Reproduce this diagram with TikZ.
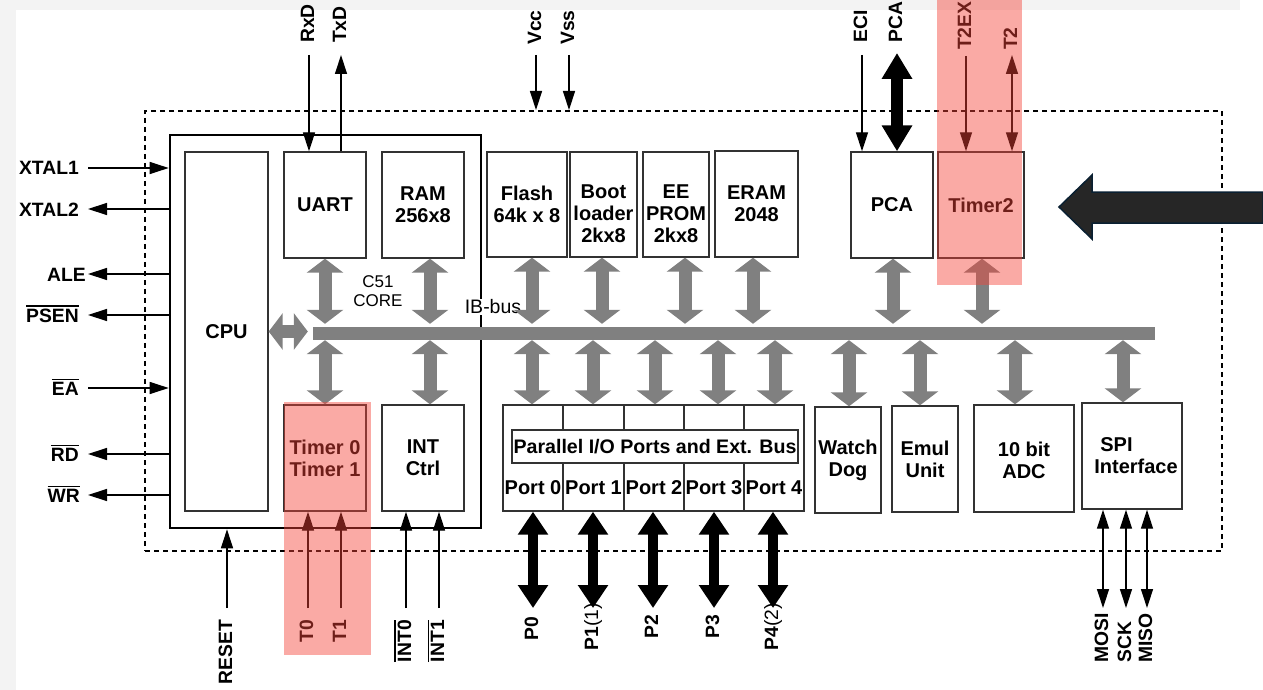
\documentclass[tikz,border=0pt]{standalone}
\usepackage{fontspec}
\setmainfont{Liberation Sans}
\usetikzlibrary{arrows.meta,fit}
\definecolor{busgrey}{RGB}{128,128,128}
\definecolor{hilite}{RGB}{244,67,56}
\definecolor{bigfill}{RGB}{38,38,38}
\definecolor{bigedge}{RGB}{10,32,50}
\definecolor{framegrey}{RGB}{243,243,243}
\definecolor{boxline}{RGB}{50,50,50}
\newcommand\ovl[1]{\vbox{\hrule height 1.5pt\kern 1.6pt\hbox{#1}}}
\begin{document}
\begin{tikzpicture}[x=1pt,y=-1pt,
  box/.style={draw=boxline,line width=1.4pt,fill=white,inner sep=0pt},
  txt/.style={font=\bfseries\fontsize{20}{22}\selectfont,align=center,inner sep=0pt},
  stxt/.style={font=\bfseries\fontsize{19.3}{22}\selectfont,inner sep=0pt},
  sig/.style={draw=black,line width=1.3pt},
  tin/.style={-{Triangle[width=12pt,length=19pt]}},
  tbi/.style={{Triangle[width=12pt,length=19pt]}-{Triangle[width=12pt,length=19pt]}},
  gar/.style={draw=busgrey,line width=13pt,{Triangle[width=36pt,length=14pt]}-{Triangle[width=36pt,length=14pt]}},
  blkarr/.style={draw=black,line width=10pt,{Triangle[width=29pt,length=23pt]}-{Triangle[width=29pt,length=23pt]}},
  pcaarr/.style={draw=black,line width=12pt,{Triangle[width=29pt,length=26pt]}-{Triangle[width=29pt,length=26pt]}},
]
\useasboundingbox (0,0) rectangle (1263,690);
\fill[white] (0,0) rectangle (1263,690);
\fill[framegrey] (0,0) rectangle (1240,10);
\fill[framegrey] (0,0) rectangle (16,690);

% chip outline and core
\node[draw=black,line width=2pt,dash pattern=on 5pt off 4pt,inner sep=0pt,fit={(145,111) (1222,551)}] (chip) {};
\node[draw=black,line width=2.6pt,inner sep=0pt,fit={(170,135) (481,528)}] (core) {};

% core blocks
\node[box,fit={(185,152) (268,511)}] (cpu) {};
\node[txt] (cpul) at (cpu) {CPU};
\node[box,fit={(284,152) (366,258)}] (uart) {};
\node[txt] (uartl) at (uart) {UART};
\node[box,fit={(382,152) (464,258)}] (ram) {};
\node[txt] (raml) at (ram) {RAM\\256x8};
\node[box,fit={(284,405) (366,511)}] (tmr) {};
\node[txt] (tmrl) at (tmr) {Timer 0\\Timer 1};
\node[box,fit={(382,405) (464,511)}] (intc) {};
\node[txt] (intcl) at (intc) {INT\\Ctrl};
\node[align=center,font=\fontsize{17}{19}\selectfont,inner sep=0pt] (corelbl) at (378,291) {C51\\CORE};

% memories
\node[box,fit={(487,152) (567,257)}] (flash) {};
\node[txt] (flashl) at (flash) {Flash\\64k x 8};
\node[box,fit={(570,152) (637,257)}] (boot) {};
\node[txt,anchor=north] (bootl) at (603.5,185) {Boot\\loader\\2kx8};
\node[box,fit={(643,152) (709,257)}] (eeprom) {};
\node[txt,anchor=north] (eel) at (676,185) {EE\\PROM\\2kx8};
\node[box,fit={(715,151) (798,257)}] (eram) {};
\node[txt] (eraml) at (eram) {ERAM\\2048};
\node[box,fit={(851,152) (933,258)}] (pca) {};
\node[txt] (pcabl) at (pca) {PCA};
\node[box,fit={(938,152) (1024,258)}] (timertwo) {};
\node[txt] (timertwol) at (timertwo) {Timer2};

% lower peripherals
\node[box,fit={(503,405) (804,511)}] (ports) {};
\foreach \x in {563,624,684,744}{
  \draw[draw=boxline,line width=1.4pt] (\x,405) -- (\x,430) (\x,463) -- (\x,511);
}
\node[box,fit={(512,430) (798,463)}] (pio) {};
\node[txt,font=\bfseries\fontsize{19.6}{22}\selectfont] (piol) at (pio) {Parallel I/O Ports and Ext. Bus};
\node[txt] (pz) at (533,488) {Port 0};
\node[txt] (po) at (593.5,488) {Port 1};
\node[txt] (pt) at (654,488) {Port 2};
\node[txt] (ph) at (714,488) {Port 3};
\node[txt] (pf) at (774,488) {Port 4};
\node[box,fit={(815,407) (881,513)}] (wdog) {};
\node[txt] (wdogl) at (wdog) {Watch\\Dog};
\node[box,fit={(892,406) (958,512)}] (emul) {};
\node[txt] (emull) at (emul) {Emul\\Unit};
\node[box,fit={(974,405) (1074,512)}] (adc) {};
\node[txt] (adcl) at ([yshift=-1.5pt]adc.center) {10 bit\\ADC};
\node[box,fit={(1082,403) (1182,509)}] (spi) {};
\node[txt,align=left] (spil) at ([xshift=4pt]spi.center) {\hspace*{6pt}SPI\\Interface};

% bus
\node[fill=busgrey,inner sep=0pt,fit={(313,327) (1155,340)}] (bus) {};
\node[fill=white,inner sep=1pt,font=\fontsize{19.5}{22}\selectfont] (buslbl) at (493,307) {IB-bus};

\foreach \x/\n in {325/uart,430/ram,532/flash,602/boot,685/eeprom,753/eram,893/pca,982/timertwo}{
  \path (\x,0) coordinate (gx);
  \draw[gar,shorten >=3pt] (gx |- \n.south) -- (gx |- bus.north);
}
\foreach \x/\n in {325/tmr,430/intc,532/ports,593/ports,655/ports,718/ports,775/ports,849/wdog,920/emul,1015/adc,1123/spi}{
  \path (\x,0) coordinate (gx);
  \draw[gar] (gx |- bus.south) -- (gx |- \n.north);
}
\coordinate (busl) at ([xshift=-5pt]bus.west);
\draw[gar] (cpu.east) -- (busl |- cpu.east);

% top signals
\coordinate (rxdp) at (309,55);
\draw[sig,tin] (rxdp) -- (rxdp |- uart.north);
\node[stxt,rotate=90,anchor=base west] (rxdl) at (314,43) {RxD};
\coordinate (txdp) at (341,55);
\draw[sig,tin] (txdp |- uart.north) -- (txdp);
\node[stxt,rotate=90,anchor=base west] (txdl) at (346,43) {TxD};
\coordinate (vccp) at (536,55);
\draw[sig,tin] (vccp) -- (vccp |- chip.north);
\node[stxt,rotate=90,anchor=base west] (vccl) at (541,45) {Vcc};
\coordinate (vssp) at (569,55);
\draw[sig,tin] (vssp) -- (vssp |- chip.north);
\node[stxt,rotate=90,anchor=base west] (vssl) at (574,45) {Vss};
\coordinate (ecip) at (862,55);
\draw[sig,tin] (ecip) -- (ecip |- pca.north);
\node[stxt,rotate=90,anchor=base west] (ecil) at (867,43) {ECI};
\coordinate (pcap) at (897,53);
\draw[pcaarr] (pcap) -- (pcap |- pca.north);
\node[stxt,rotate=90,anchor=base west] (pcal) at (902,43) {PCA};
\coordinate (texp) at (966,56);
\draw[sig,tin] (texp) -- (texp |- timertwo.north);
\node[stxt,rotate=90,anchor=base west] (texl) at (971,50) {T2EX};
\coordinate (ttwop) at (1012,55);
\draw[sig,tbi] (ttwop) -- (ttwop |- timertwo.north);
\node[stxt,rotate=90,anchor=base west] (ttwol) at (1017,50) {T2};

% left signals
\coordinate (xonep) at (88,168);
\draw[sig,tin] (xonep) -- (xonep -| core.west);
\node[stxt,anchor=base east] (xonel) at (79,175) {XTAL1};
\coordinate (xtwop) at (88,209);
\draw[sig,tin] (xtwop -| core.west) -- (xtwop);
\node[stxt,anchor=base east] (xtwol) at (79,216) {XTAL2};
\coordinate (alep) at (88,274);
\draw[sig,tin] (alep -| core.west) -- (alep);
\node[stxt,anchor=base east] (alel) at (86,281) {ALE};
\coordinate (psenp) at (88,315);
\draw[sig,tin] (psenp -| core.west) -- (psenp);
\node[stxt,anchor=base east] (psenl) at (79,322) {\ovl{PSEN}};
\coordinate (eap) at (88,388);
\draw[sig,tin] (eap) -- (eap -| core.west);
\node[stxt,anchor=base east] (eal) at (79,395) {\ovl{EA}};
\coordinate (rdp) at (88,454);
\draw[sig,tin] (rdp -| core.west) -- (rdp);
\node[stxt,anchor=base east] (rdl) at (79,461) {\ovl{RD}};
\coordinate (wrp) at (88,495);
\draw[sig,tin] (wrp -| core.west) -- (wrp);
\node[stxt,anchor=base east] (wrl) at (80,502) {\ovl{WR}};

% bottom signals
\coordinate (rstp) at (227,608);
\draw[sig,tin] (rstp) -- (rstp |- core.south);
\node[stxt,rotate=90,anchor=base east] (rstl) at (232,620) {RESET};
\coordinate (tzp) at (308,608);
\draw[sig,tin] (tzp) -- (tzp |- tmr.south);
\node[stxt,rotate=90,anchor=base east] (tzl) at (313,620) {T0};
\coordinate (top) at (341,608);
\draw[sig,tin] (top) -- (top |- tmr.south);
\node[stxt,rotate=90,anchor=base east] (tol) at (346,620) {T1};
\coordinate (izp) at (406,608);
\draw[sig,tin] (izp) -- (izp |- intc.south);
\node[stxt,rotate=90,anchor=base east] (izl) at (411,620) {\ovl{INT0}};
\coordinate (iop) at (439,608);
\draw[sig,tin] (iop) -- (iop |- intc.south);
\node[stxt,rotate=90,anchor=base east] (iol) at (444,620) {\ovl{INT1}};

\foreach \x/\y/\t [count=\i] in {533/617/P0,593/603/P1{\mdseries(1)},653/615/P2,714/615/P3,773/603/P4{\mdseries(2)}}{
  \coordinate (pp\i) at (\x,608);
  \draw[blkarr] (pp\i |- ports.south) -- (pp\i);
  \node[stxt,rotate=90,anchor=base east] (pl\i) at (\x+5,\y) {\t};
}
\foreach \x/\t [count=\i] in {1103/MOSI,1126/SCK,1147/MISO}{
  \coordinate (sp\i) at (\x,608);
  \draw[sig,tbi] (sp\i |- spi.south) -- (sp\i);
  \node[stxt,rotate=90,anchor=base west] (sl\i) at (\x+5,663) {\t};
}

% highlights
\fill[hilite,fill opacity=0.45] (937,0) rectangle (1022,285);
\fill[hilite,fill opacity=0.45] (284,402) rectangle (371,655);

% pointer arrow
\filldraw[fill=bigfill,draw=bigedge,line width=1.5pt] (1263,192) -- (1092,192) -- (1092,175) -- (1059,207) -- (1092,239) -- (1092,223) -- (1263,223) -- cycle;
\end{tikzpicture}
\end{document}
